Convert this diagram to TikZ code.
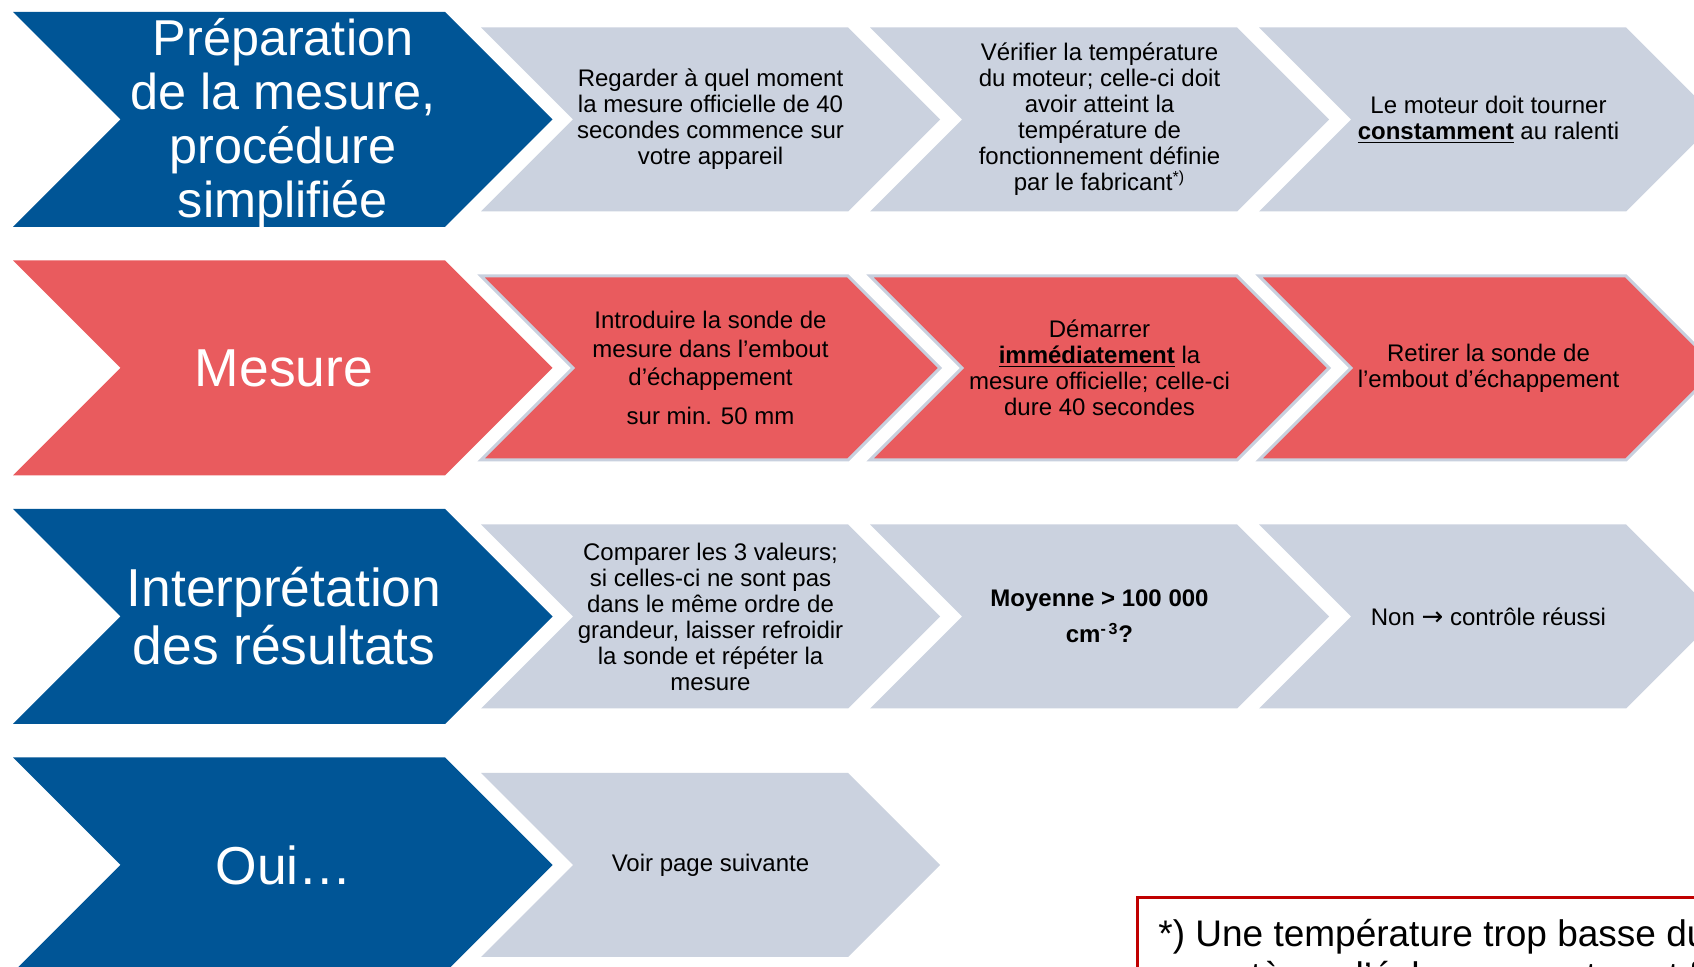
\documentclass[tikz,border=0pt]{standalone}
\usepackage{fontspec}
\setmainfont{Liberation Sans}
\newfontfamily\dejavu{DejaVu Sans}
\definecolor{cblue}{RGB}{0,85,150}
\definecolor{cred}{RGB}{233,91,94}
\definecolor{cgrey}{RGB}{203,210,223}
\definecolor{credge}{RGB}{200,208,222}
\definecolor{cfnred}{RGB}{192,0,0}
% #1 left x, #2 centre y, #3 straight width, #4 half height, #5 style
\newcommand\chevshape[5]{%
  \path[#5] ({#1},{#2-#4}) -- ({#1+#3},{#2-#4}) -- ({#1+#3+#4},{#2})
    -- ({#1+#3},{#2+#4}) -- ({#1},{#2+#4}) -- ({#1+#4},{#2}) -- cycle;}
\begin{document}
\begin{tikzpicture}[x=0.5pt,y=-0.5pt,
  bigblue/.style={fill=cblue},
  bigred/.style={fill=cred},
  stepgrey/.style={fill=cgrey},
  stepred/.style={fill=cred,draw=credge,line width=1.5pt,line join=miter},
  bigtext/.style={text=white,font=\fontsize{26.7}{29}\selectfont,align=center,inner sep=0pt},
  steptext/.style={text=black,font=\fontsize{12}{13}\selectfont,align=center,inner sep=0pt},
  fntext/.style={text=black,font=\fontsize{18.5}{21}\selectfont,inner sep=0pt},
  fnbox/.style={draw=cfnred,line width=1.5pt,fill=white}]
\useasboundingbox (0,0) rectangle (1694,967);
\clip (0,0) rectangle (1694,967);
\fill[white] (0,0) rectangle (1694,967);

% Row 1
\chevshape{13}{119.5}{432}{107.5}{bigblue}
\chevshape{481}{119.5}{367}{92}{stepgrey}
\chevshape{870}{119.5}{367}{92}{stepgrey}
\chevshape{1259}{119.5}{367}{92}{stepgrey}
\node[bigtext,font=\fontsize{25.2}{27}\selectfont] (h1) at (283,123) {Préparation\\de la mesure,\\procédure\\simplifiée};
\node[steptext] (s11) at (710.5,119.5) {Regarder à quel moment\\la mesure officielle de 40\\secondes commence sur\\votre appareil};
\node[steptext] (s12) at (1099.5,119.5) {Vérifier la température\\du moteur; celle-ci doit\\avoir atteint la\\température de\\fonctionnement définie\\par le fabricant\textsuperscript{*)}};
\node[steptext] (s13) at (1488.5,119.5) {Le moteur doit tourner\\\underline{\textbf{constamment}} au ralenti};

% Row 2
\chevshape{13}{368}{432}{107.5}{bigred}
\chevshape{481}{368}{367}{92}{stepred}
\chevshape{870}{368}{367}{92}{stepred}
\chevshape{1259}{368}{367}{92}{stepred}
\node[bigtext] (h2) at (284,368) {Mesure};
\node[steptext,font=\fontsize{12}{14.3}\selectfont] (s21) at (710.5,368) {Introduire la sonde de\\mesure dans l’embout\\d’échappement\\[5pt]sur min. 50 mm};
\node[steptext] (s22) at (1099.5,368) {Démarrer\\\underline{\textbf{immédiatement}} la\\mesure officielle; celle-ci\\dure 40 secondes};
\node[steptext] (s23) at (1488.5,368) {Retirer la sonde de\\l’embout d’échappement};

% Row 3
\chevshape{13}{616.5}{432}{107.5}{bigblue}
\chevshape{481}{616.5}{367}{92}{stepgrey}
\chevshape{870}{616.5}{367}{92}{stepgrey}
\chevshape{1259}{616.5}{367}{92}{stepgrey}
\node[bigtext] (h3) at (284,616.5) {Interprétation\\des résultats};
\node[steptext] (s31) at (710.5,616.5) {Comparer les 3 valeurs;\\si celles-ci ne sont pas\\dans le même ordre de\\grandeur, laisser refroidir\\la sonde et répéter la\\mesure};
\node[steptext,font=\fontsize{12}{18}\selectfont\bfseries] (s32) at (1099.5,616.5) {Moyenne > 100 000\\cm\textsuperscript{-\,3}?};
\node[steptext] (s33) at (1488.5,616.5) {Non {\dejavu\fontsize{13}{13}\selectfont →} contrôle réussi};

% Row 4
\chevshape{13}{865}{432}{107.5}{bigblue}
\chevshape{481}{865}{367}{92}{stepgrey}
\node[bigtext] (h4) at (284,865) {Oui…};
\node[steptext] (s41) at (710.5,865) {Voir page suivante};

% Footnote box
\path[fnbox] (1137,898) rectangle (1760,1040);
\node[fntext,anchor=base west] (fn1) at (1158,947) {*) Une température trop basse du};
\node[fntext,anchor=base west] (fn2) at (1195,988) {système d’échappement peut fausser la mesure};
\end{tikzpicture}
\end{document}
